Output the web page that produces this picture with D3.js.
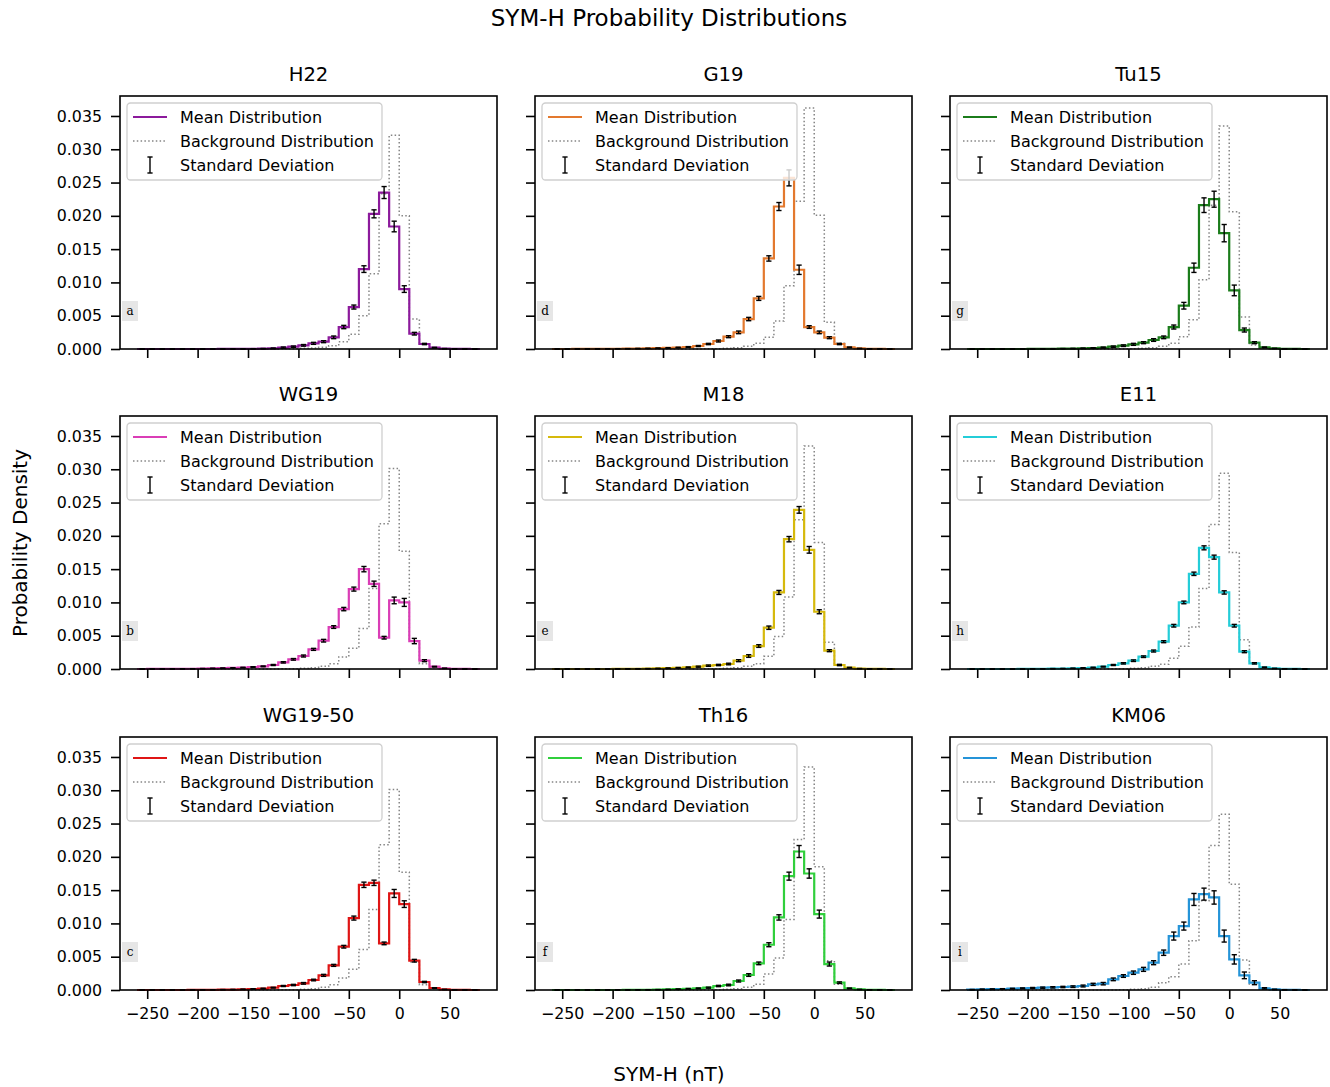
<!DOCTYPE html>
<html>
<head>
<meta charset="utf-8">
<script src="https://cdn.jsdelivr.net/npm/d3@7"></script>
<style>
  body { margin: 0; background: #ffffff; }
  svg { font-family: "DejaVu Sans", sans-serif; display: block; }
</style>
</head>
<body>
<svg id="chart" width="1330" height="1087"></svg>
<script>
// ---- Histogram bins (SYM-H, nT): left edge of each 10 nT bin ----
const binLefts = [-260,-250,-240,-230,-220,-210,-200,-190,-180,-170,-160,-150,-140,-130,-120,-110,-100,-90,-80,-70,-60,-50,-40,-30,-20,-10,0,10,20,30,40,50,60,70];
const binWidth = 10;

// ---- Panel titles and letters ----
const panelNames   = ["H22", "G19", "Tu15", "WG19", "M18", "E11", "WG19-50", "Th16", "KM06"];
const panelLetters = ["a", "d", "g", "b", "e", "h", "c", "f", "i"];
const panelColors  = ["#8c1a9c", "#e3792e", "#1b7c1b", "#da3db6", "#d6b90c", "#24cdd8", "#df1515", "#30cf3c", "#2594d8"];

// ---- Tick values ----
const yTickValues = [0, 0.005, 0.010, 0.015, 0.020, 0.025, 0.030, 0.035];
const xTickValues = [-250, -200, -150, -100, -50, 0, 50];
const legendLabels = ["Mean Distribution", "Background Distribution", "Standard Deviation"];

// ---- Mean distributions ----
const meanH22  = [0,0,0,0,0,0,0,0,0.00001,0.00001,0.00002,0.00003,0.00005,0.0001,0.0002,0.00035,0.00055,0.00085,0.0011,0.00175,0.0033,0.0063,0.012,0.0203,0.0235,0.0184,0.009,0.0023,0.00075,0.0002,0.00005,0.00002,0.00001,0];
const meanG19  = [0,0,0.00001,0.00001,0.00002,0.00003,0.00004,0.00005,0.00007,0.00009,0.00012,0.00016,0.00022,0.0003,0.00045,0.00075,0.0012,0.00185,0.0025,0.0045,0.0076,0.0136,0.0214,0.0257,0.0119,0.0033,0.0025,0.0017,0.00075,0.00025,0.00008,0.00003,0.00001,0];
const meanTu15 = [0,0,0,0,0,0,0.00001,0.00002,0.00003,0.00005,0.00007,0.0001,0.00014,0.00022,0.00035,0.0005,0.0007,0.00095,0.00135,0.00175,0.0033,0.0065,0.0122,0.0216,0.0225,0.0174,0.0088,0.00285,0.00095,0.00025,0.00008,0.00003,0.00001,0];
const meanWG19 = [0,0.00001,0.00001,0.00002,0.00003,0.00004,0.00006,0.00009,0.00012,0.00016,0.00022,0.0003,0.0004,0.0006,0.001,0.00145,0.00195,0.00295,0.00425,0.0063,0.009,0.012,0.015,0.0128,0.0047,0.0103,0.01,0.0042,0.00125,0.00035,0.0001,0.00003,0.00001,0];
const meanM18  = [0,0,0,0,0,0,0.00001,0.00002,0.00003,0.00005,0.00008,0.00012,0.00018,0.00025,0.00035,0.0005,0.0006,0.00075,0.00125,0.00195,0.00345,0.0062,0.0115,0.0195,0.0239,0.0179,0.0086,0.00275,0.0006,0.0002,0.00006,0.00002,0.00001,0];
const meanE11  = [0,0,0,0,0,0.00001,0.00002,0.00003,0.00005,0.00007,0.0001,0.00015,0.00022,0.00035,0.0006,0.00085,0.00125,0.00185,0.0027,0.0041,0.0065,0.01,0.0143,0.0182,0.0168,0.0115,0.0065,0.0026,0.00085,0.00025,0.00008,0.00003,0.00001,0];
const meanWG1950 = [0,0,0,0,0,0.00001,0.00002,0.00003,0.00005,0.00007,0.0001,0.00015,0.00022,0.00035,0.0006,0.00075,0.001,0.0015,0.0022,0.0037,0.0065,0.0108,0.0158,0.0161,0.007,0.0145,0.0129,0.0044,0.0012,0.0003,0.00008,0.00003,0.00001,0];
const meanTh16 = [0,0,0,0,0,0,0,0.00001,0.00002,0.00003,0.00005,0.00008,0.00012,0.00018,0.00025,0.00035,0.0006,0.00075,0.00135,0.00225,0.004,0.0068,0.0109,0.0171,0.0208,0.0175,0.0114,0.0039,0.0011,0.00025,0.00008,0.00003,0.00001,0];
const meanKM06 = [0.00005,0.0001,0.00012,0.00015,0.0002,0.00025,0.0003,0.00035,0.0004,0.00045,0.0005,0.0006,0.00085,0.00095,0.0016,0.0021,0.0026,0.0031,0.0041,0.0056,0.0081,0.0096,0.0136,0.0144,0.0139,0.0081,0.0046,0.0022,0.0011,0.00025,0.00008,0.00003,0.00001,0];

// ---- Background distributions ----
const bgH22  = [0,0,0,0,0,0,0,0,0,0,0,0,0,0.00001,0.00002,0.00005,0.0001,0.00015,0.00025,0.0005,0.0011,0.0022,0.005,0.0113,0.0233,0.0321,0.02,0.0045,0.0007,0.0001,0.00002,0,0,0];
const bgG19  = [0,0,0,0,0,0,0,0,0,0,0,0,0,0,0.00001,0.00002,0.00005,0.0001,0.0002,0.0004,0.00085,0.00175,0.0042,0.0095,0.0222,0.0362,0.0201,0.004,0.00085,0.0002,0.00003,0,0,0];
const bgTu15 = [0,0,0,0,0,0,0,0,0,0,0,0,0,0,0.00001,0.00002,0.00005,0.0001,0.0002,0.0004,0.00085,0.00185,0.0044,0.0104,0.0216,0.0335,0.0206,0.0048,0.0006,0.0001,0.00002,0,0,0];
const bgWG19 = [0,0,0,0,0,0,0,0,0,0,0,0,0,0.00001,0.00002,0.00005,0.0001,0.0002,0.0004,0.0008,0.0018,0.0031,0.0061,0.0121,0.0218,0.0301,0.0177,0.0042,0.0008,0.0002,0.00003,0,0,0];
const bgM18  = [0,0,0,0,0,0,0,0,0,0,0,0,0,0,0.00001,0.00002,0.00005,0.0001,0.0002,0.0004,0.0008,0.0019,0.0049,0.0108,0.0224,0.0335,0.019,0.004,0.0006,0.0001,0.00002,0,0,0];
const bgE11  = [0,0,0,0,0,0,0,0,0,0,0,0,0,0.00001,0.00002,0.00005,0.0001,0.0002,0.0004,0.0007,0.0016,0.0034,0.0063,0.0121,0.0217,0.0294,0.0175,0.0044,0.00085,0.0001,0.00002,0,0,0];
const bgTh16 = [0,0,0,0,0,0,0,0,0,0,0,0,0,0,0.00001,0.00002,0.00005,0.0001,0.0002,0.0004,0.00085,0.0024,0.0048,0.0106,0.0226,0.0335,0.0185,0.0044,0.00085,0.0001,0.00002,0,0,0];
const bgKM06 = [0,0,0,0,0,0,0,0,0,0,0,0,0,0,0.00001,0.00003,0.0001,0.0002,0.0004,0.0011,0.002,0.0039,0.0074,0.0134,0.0217,0.0264,0.0159,0.0045,0.00085,0.0001,0.00002,0,0,0];

// ---- Standard deviations of the mean distributions ----
const stdH22  = [0,0,0,0,0,0,0,0,0.00001,0.00001,0.00001,0.00002,0.00003,0.00005,0.0001,0.0001,0.00012,0.00015,0.00015,0.0002,0.00025,0.0003,0.0005,0.0006,0.0009,0.0008,0.0005,0.0002,0.0001,0.00005,0.00002,0.00001,0,0];
const stdG19  = [0,0,0,0,0,0,0.00001,0.00001,0.00002,0.00002,0.00003,0.00004,0.00005,0.00006,0.00008,0.0001,0.00015,0.00015,0.0002,0.00025,0.0003,0.0004,0.0006,0.0012,0.0007,0.0002,0.0002,0.00015,0.0001,0.00005,0.00002,0.00001,0,0];
const stdTu15 = [0,0,0,0,0,0,0.00001,0.00001,0.00002,0.00002,0.00003,0.00004,0.00005,0.00007,0.0001,0.00012,0.00015,0.00015,0.0002,0.0002,0.0003,0.0005,0.0007,0.0011,0.0012,0.0013,0.0008,0.0003,0.00015,0.00005,0.00002,0.00001,0,0];
const stdWG19 = [0,0,0,0.00001,0.00001,0.00001,0.00002,0.00002,0.00003,0.00003,0.00004,0.00005,0.00006,0.00008,0.0001,0.00012,0.00015,0.00015,0.0002,0.0002,0.00025,0.0003,0.0004,0.0004,0.0002,0.0005,0.0006,0.0004,0.00015,0.00005,0.00002,0.00001,0,0];
const stdM18  = [0,0,0,0,0,0,0.00001,0.00001,0.00002,0.00002,0.00003,0.00004,0.00005,0.00006,0.00008,0.0001,0.0001,0.00012,0.00015,0.0002,0.0002,0.00025,0.0003,0.0004,0.0005,0.0005,0.0003,0.00015,0.0001,0.00005,0.00002,0.00001,0,0];
const stdE11  = [0,0,0,0,0,0.00001,0.00001,0.00001,0.00002,0.00002,0.00003,0.00004,0.00005,0.00006,0.00008,0.0001,0.00012,0.00012,0.00015,0.00015,0.0002,0.0002,0.00025,0.0003,0.0003,0.00025,0.0002,0.00015,0.0001,0.00005,0.00002,0.00001,0,0];
const stdWG1950 = [0,0,0,0,0,0.00001,0.00001,0.00001,0.00002,0.00002,0.00003,0.00004,0.00005,0.00006,0.00008,0.0001,0.00012,0.00012,0.00015,0.00015,0.0002,0.0003,0.0004,0.0004,0.0002,0.0006,0.0005,0.0002,0.0001,0.00005,0.00002,0.00001,0,0];
const stdTh16 = [0,0,0,0,0,0,0,0.00001,0.00001,0.00002,0.00002,0.00003,0.00004,0.00005,0.00006,0.00008,0.0001,0.00012,0.00015,0.0002,0.0002,0.0003,0.0004,0.0006,0.0009,0.0007,0.0006,0.0003,0.00012,0.00005,0.00002,0.00001,0,0];
const stdKM06 = [0.00003,0.00004,0.00005,0.00005,0.00006,0.00007,0.00008,0.00009,0.0001,0.0001,0.00012,0.00014,0.00016,0.00018,0.0002,0.0002,0.00025,0.0003,0.0003,0.0004,0.0006,0.0006,0.0009,0.0009,0.001,0.0009,0.0007,0.0005,0.0003,0.0001,0.00004,0.00002,0.00001,0];

const meanSeries = [meanH22, meanG19, meanTu15, meanWG19, meanM18, meanE11, meanWG1950, meanTh16, meanKM06];
const bgSeries   = [bgH22, bgG19, bgTu15, bgWG19, bgM18, bgE11, bgWG19, bgTh16, bgKM06];
const stdSeries  = [stdH22, stdG19, stdTu15, stdWG19, stdM18, stdE11, stdWG1950, stdTh16, stdKM06];

// ---- Layout ----
const svg = d3.select("#chart");
const W = 377, H = 253;
const colLefts = [120, 535, 950];
const rowTops  = [96, 416, 737];
const TICK_FONT = 15.8, LEGEND_FONT = 16, TITLE_FONT = 19.6;

const x = d3.scaleLinear().domain([-277, 97]).range([0, W]);
const y = d3.scaleLinear().domain([0, 0.038]).range([H, 0]);

const stepLine = d3.line()
  .x(d => x(d[0]))
  .y(d => y(d[1]))
  .curve(d3.curveStepAfter);

function stepPoints(vals) {
  const last = binLefts[binLefts.length - 1] + binWidth;
  const pts = [[binLefts[0], 0]];
  vals.forEach((v, i) => pts.push([binLefts[i], v]));
  pts.push([last, vals[vals.length - 1]]);
  pts.push([last, 0]);
  return pts;
}

const defs = svg.append("defs");

panelNames.forEach((name, k) => {
  const col = k % 3, row = Math.floor(k / 3);
  const g = svg.append("g").attr("transform", `translate(${colLefts[col]},${rowTops[row]})`);

  defs.append("clipPath").attr("id", `clip${k}`)
    .append("rect").attr("x", 0).attr("y", -2).attr("width", W).attr("height", H + 4);

  const plot = g.append("g").attr("clip-path", `url(#clip${k})`);

  // background distribution (dotted grey step)
  plot.append("path")
    .attr("d", stepLine(stepPoints(bgSeries[k])))
    .attr("fill", "none")
    .attr("stroke", "#858585")
    .attr("stroke-width", 1.5)
    .attr("stroke-dasharray", "1.5,2.3");

  // mean distribution (coloured step)
  plot.append("path")
    .attr("d", stepLine(stepPoints(meanSeries[k])))
    .attr("fill", "none")
    .attr("stroke", panelColors[k])
    .attr("stroke-width", 2.2)
    .attr("stroke-linejoin", "miter");

  // standard deviation error bars at bin centres
  const eb = plot.append("g").attr("stroke", "#000").attr("stroke-width", 1.4);
  meanSeries[k].forEach((m, i) => {
    const s = stdSeries[k][i];
    const cx = x(binLefts[i] + binWidth / 2);
    const y0 = y(m - s), y1 = y(m + s);
    eb.append("line").attr("x1", cx).attr("x2", cx).attr("y1", y0).attr("y2", y1);
    eb.append("line").attr("x1", cx - 2.6).attr("x2", cx + 2.6).attr("y1", y0).attr("y2", y0);
    eb.append("line").attr("x1", cx - 2.6).attr("x2", cx + 2.6).attr("y1", y1).attr("y2", y1);
  });

  // axes
  const yAxis = d3.axisLeft(y).tickValues(yTickValues).tickSize(9).tickPadding(9)
    .tickFormat(col === 0 ? d3.format(".3f") : () => "");
  const xAxis = d3.axisBottom(x).tickValues(xTickValues).tickSize(9).tickPadding(9)
    .tickFormat(row === 2 ? d3.format("") : () => "");

  const ya = g.append("g").call(yAxis);
  const xa = g.append("g").attr("transform", `translate(0,${H})`).call(xAxis);
  [ya, xa].forEach(a => {
    a.select(".domain").remove();
    a.selectAll(".tick line").attr("stroke", "#000").attr("stroke-width", 1.6);
    a.selectAll(".tick text").attr("fill", "#000")
      .style("font-size", TICK_FONT + "px").style("font-family", "DejaVu Sans");
  });

  // frame
  g.append("rect").attr("x", 0).attr("y", 0).attr("width", W).attr("height", H)
    .attr("fill", "none").attr("stroke", "#000").attr("stroke-width", 1.6);

  // panel title
  g.append("text").attr("x", W / 2).attr("y", -15)
    .attr("text-anchor", "middle").style("font-size", TITLE_FONT + "px")
    .text(name);

  // panel letter tag
  g.append("rect").attr("x", 2).attr("y", 205).attr("width", 16).attr("height", 20)
    .attr("fill", "#e6e6e6");
  g.append("text").attr("x", 10).attr("y", 219)
    .attr("text-anchor", "middle")
    .style("font-family", "'DejaVu Serif', serif").style("font-size", "12px")
    .text(panelLetters[k]);

  // legend
  const lg = g.append("g").attr("transform", "translate(7,7)");
  lg.append("rect").attr("x", 0).attr("y", 0).attr("width", 255).attr("height", 77)
    .attr("rx", 3.5).attr("fill", "#fff").attr("fill-opacity", 0.8)
    .attr("stroke", "#cfcfcf").attr("stroke-width", 1.3);
  const rowsY = [14, 38, 62];
  lg.append("line").attr("x1", 6).attr("x2", 40).attr("y1", rowsY[0]).attr("y2", rowsY[0])
    .attr("stroke", panelColors[k]).attr("stroke-width", 2.2);
  lg.append("line").attr("x1", 6).attr("x2", 40).attr("y1", rowsY[1]).attr("y2", rowsY[1])
    .attr("stroke", "#858585").attr("stroke-width", 1.5).attr("stroke-dasharray", "1.5,2.3");
  const ig = lg.append("g").attr("stroke", "#000").attr("stroke-width", 1.4);
  ig.append("line").attr("x1", 23).attr("x2", 23).attr("y1", rowsY[2] - 8).attr("y2", rowsY[2] + 8);
  ig.append("line").attr("x1", 20.4).attr("x2", 25.6).attr("y1", rowsY[2] - 8).attr("y2", rowsY[2] - 8);
  ig.append("line").attr("x1", 20.4).attr("x2", 25.6).attr("y1", rowsY[2] + 8).attr("y2", rowsY[2] + 8);
  legendLabels.forEach((t, j) => {
    lg.append("text").attr("x", 53).attr("y", rowsY[j]).attr("dy", "0.36em")
      .style("font-size", LEGEND_FONT + "px").text(t);
  });
});

// figure title and shared axis labels
svg.append("text").attr("x", 669).attr("y", 26).attr("text-anchor", "middle")
  .style("font-size", "23px").text("SYM-H Probability Distributions");
svg.append("text").attr("transform", "translate(27,543) rotate(-90)")
  .attr("text-anchor", "middle").style("font-size", "20px").text("Probability Density");
svg.append("text").attr("x", 669).attr("y", 1081).attr("text-anchor", "middle")
  .style("font-size", "20px").text("SYM-H (nT)");
</script>
</body>
</html>
